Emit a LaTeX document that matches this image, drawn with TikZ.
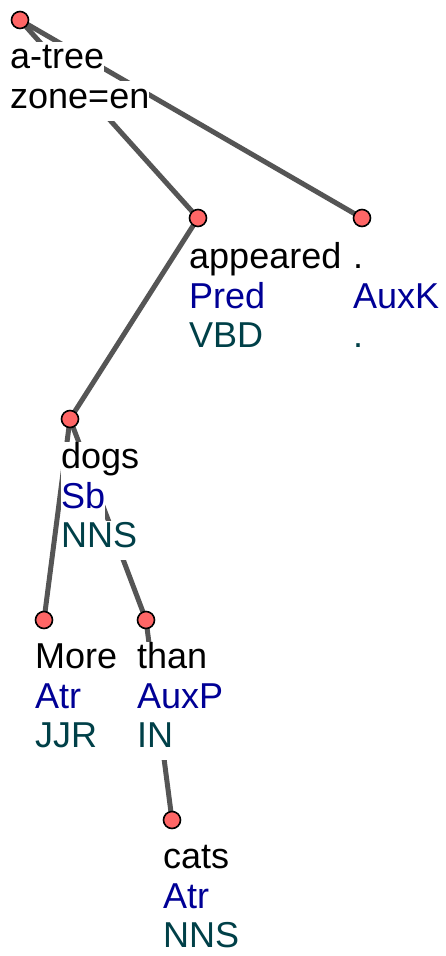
\documentclass[tikz,border=0pt]{standalone}
\usepackage{fontspec}
\setmainfont{Liberation Sans}
\usetikzlibrary{backgrounds}
\definecolor{edgegray}{HTML}{555555}
\definecolor{nodefill}{HTML}{FF6666}
\definecolor{afunblue}{HTML}{000096}
\definecolor{tagteal}{HTML}{004048}
\tikzset{
  tnode/.style={circle, draw=black, line width=1.6pt, fill=nodefill, minimum size=17pt, inner sep=0pt},
  edge/.style={draw=edgegray, line width=5pt},
  lbl/.style={anchor=base west, fill=white, inner sep=0pt, text height=27pt, text depth=12.5pt,
              font=\fontsize{36}{39.5}\selectfont},
  wform/.style={lbl, text=black},
  afun/.style={lbl, text=afunblue},
  tagl/.style={lbl, text=tagteal}
}
\begin{document}
\begin{tikzpicture}[x=1pt,y=-1pt]
\useasboundingbox (0,0) rectangle (445,956);
% text labels
\node[wform] (t0a) at (10,68.5) {a-tree};
\node[wform] (t0b) at (10,108) {zone=en};
\node[wform] (t1a) at (189,268.5) {appeared};
\node[afun]  (t1b) at (189,308) {Pred};
\node[tagl]  (t1c) at (189,347.5) {VBD};
\node[wform] (t2a) at (353,268.5) {.};
\node[afun]  (t2b) at (353,308) {AuxK};
\node[tagl]  (t2c) at (353,347.5) {.};
\node[wform] (t3a) at (61,468.5) {dogs};
\node[afun]  (t3b) at (61,508) {Sb};
\node[tagl]  (t3c) at (61,547.5) {NNS};
\node[wform] (t4a) at (35,668.5) {More};
\node[afun]  (t4b) at (35,708) {Atr};
\node[tagl]  (t4c) at (35,747.5) {JJR};
\node[wform] (t5a) at (137,668.5) {than};
\node[afun]  (t5b) at (137,708) {AuxP};
\node[tagl]  (t5c) at (137,747.5) {IN};
\node[wform] (t6a) at (163,868.5) {cats};
\node[afun]  (t6b) at (163,908) {Atr};
\node[tagl]  (t6c) at (163,947.5) {NNS};
% tree nodes
\node[tnode] (root) at (20,20) {};
\node[tnode] (app) at (198,218) {};
\node[tnode] (dot) at (362,218) {};
\node[tnode] (dogs) at (70,419) {};
\node[tnode] (more) at (44,620) {};
\node[tnode] (than) at (146,620) {};
\node[tnode] (cats) at (172,820) {};
% edges
\begin{scope}[on background layer]
\draw[edge] (root.center) -- (app.center);
\draw[edge] (root.center) -- (dot.center);
\draw[edge] (app.center) -- (dogs.center);
\draw[edge] (dogs.center) -- (more.center);
\draw[edge] (dogs.center) -- (than.center);
\draw[edge] (than.center) -- (cats.center);
\end{scope}
\end{tikzpicture}
\end{document}
